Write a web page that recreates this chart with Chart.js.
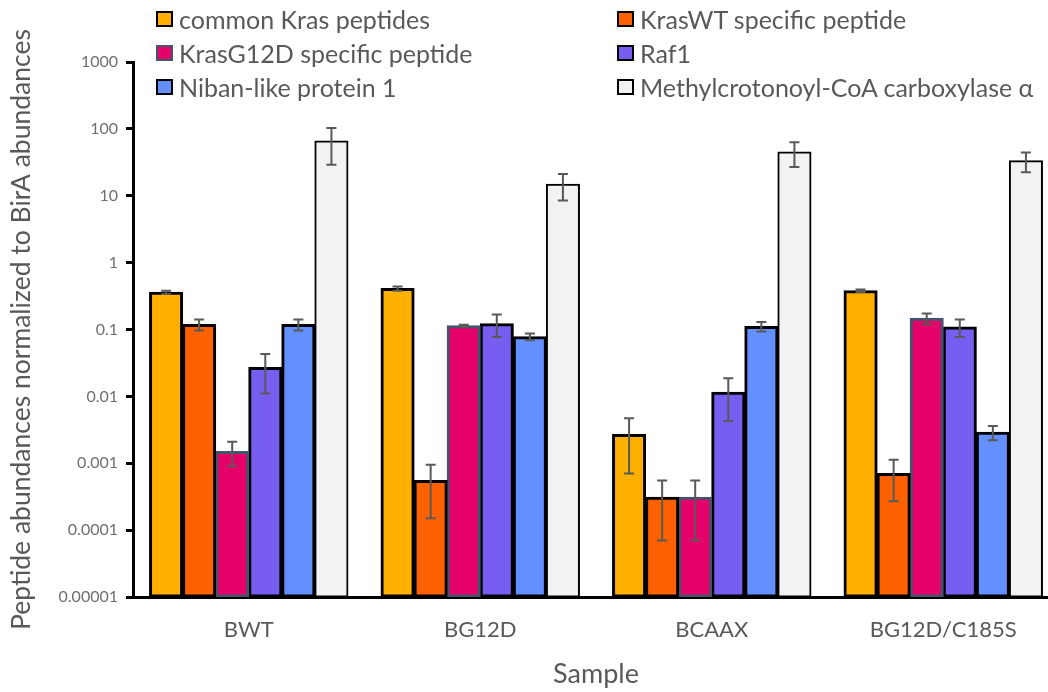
<!DOCTYPE html>
<html>
<head>
<meta charset="utf-8">
<script src="https://cdn.jsdelivr.net/npm/chart.js@4"></script>
<style>
html, body { margin: 0; padding: 0; background: #fff; overflow: hidden; }
#wrap { position: relative; width: 1060px; height: 692px; }
#legend { position: absolute; left: 0; top: 0; font-family: Lato, sans-serif; font-size: 25px; color: #595959; }
.item { position: absolute; display: flex; align-items: center; white-space: nowrap; height: 30px; }
.box { width: 13px; height: 12px; border: 2px solid #000; margin-right: 6px; }
</style>
</head>
<body>
<div id="wrap">
  <canvas id="chart" width="1060" height="692"></canvas>
  <div id="legend"></div>
</div>
<script>
var samples = ["BWT", "BG12D", "BCAAX", "BG12D/C185S"];
var seriesNames = ["common Kras peptides", "KrasWT specific peptide", "KrasG12D specific peptide",
                   "Raf1", "Niban-like protein 1", "Methylcrotonoyl-CoA carboxylase \u03b1"];

var commonKras    = [0.36, 0.41, 0.0027, 0.38];
var commonKrasErr = [0.02, 0.03, 0.002, 0.015];
var krasWT        = [0.119, 0.00055, 0.00031, 0.0007];
var krasWTErr     = [0.022, 0.0004, 0.00024, 0.00043];
var krasG12D      = [0.0015, 0.114, 0.00031, 0.147];
var krasG12DErr   = [0.0006, 0.004, 0.00024, 0.027];
var raf1          = [0.027, 0.122, 0.0115, 0.109];
var raf1Err       = [0.016, 0.045, 0.0072, 0.032];
var niban         = [0.119, 0.078, 0.111, 0.0029];
var nibanErr      = [0.022, 0.009, 0.018, 0.0007];
var mccA          = [66, 14.8, 45, 33.4];
var mccAErr       = [37, 6.3, 18, 11];

var tickValues = [0.00001, 0.0001, 0.001, 0.01, 0.1, 1, 10, 100, 1000];
var tickLabels = ["0.00001", "0.0001", "0.001", "0.01", "0.1", "1", "10", "100", "1000"];

var seriesData = [commonKras, krasWT, krasG12D, raf1, niban, mccA];
var seriesErr = [commonKrasErr, krasWTErr, krasG12DErr, raf1Err, nibanErr, mccAErr];
var fills = ["#FFB000", "#FE6100", "#E6006A", "#785EF0", "#648FFF", "#F2F2F2"];
var borders = ["#000", "#000", "#44546A", "#000", "#000", "#000"];
var borderWidths = [3, 3, 3, 3, 3, 2];

var datasets = seriesNames.map(function (name, i) {
  return {
    label: name,
    data: seriesData[i],
    errors: seriesErr[i],
    backgroundColor: fills[i],
    borderColor: borders[i],
    borderWidth: borderWidths[i],
    borderSkipped: false,
    inflateAmount: 0.5,
    categoryPercentage: 6 / 7,
    barPercentage: 1
  };
});

// error bars, drawn through the y scale
var errorBars = {
  id: 'errorBars',
  afterDatasetsDraw: function (chart) {
    var ctx = chart.ctx, y = chart.scales.y;
    ctx.save();
    ctx.strokeStyle = '#595959';
    ctx.lineWidth = 2;
    chart.data.datasets.forEach(function (ds, i) {
      chart.getDatasetMeta(i).data.forEach(function (bar, j) {
        var v = ds.data[j], e = ds.errors[j];
        var top = y.getPixelForValue(v + e);
        var low = (v - e) > y.min ? y.getPixelForValue(v - e) : y.bottom;
        var x = bar.x, c = 5;
        ctx.beginPath();
        ctx.moveTo(x, top); ctx.lineTo(x, low);
        ctx.moveTo(x - c, top); ctx.lineTo(x + c, top);
        ctx.moveTo(x - c, low); ctx.lineTo(x + c, low);
        ctx.stroke();
      });
    });
    ctx.restore();
  }
};

var chart = new Chart(document.getElementById('chart'), {
  type: 'bar',
  data: { labels: samples, datasets: datasets },
  plugins: [errorBars],
  options: {
    responsive: false,
    animation: false,
    layout: { padding: { top: 62, right: 1, left: 0, bottom: 0 } },
    plugins: { legend: { display: false }, tooltip: { enabled: false } },
    scales: {
      x: {
        offset: true,
        grid: { display: false, drawTicks: false },
        border: { display: true, color: '#000', width: 3 },
        ticks: { color: '#595959', font: { family: 'Lato', size: 22 }, padding: 20 },
        afterFit: function (s) { s.height = 95; },
        title: { display: true, text: 'Sample', color: '#595959',
                 font: { family: 'Lato', size: 27 }, padding: { top: 0, bottom: 2 } }
      },
      y: {
        type: 'logarithmic',
        min: 0.00001,
        max: 1000,
        afterBuildTicks: function (s) { s.ticks = tickValues.map(function (v) { return { value: v }; }); },
        afterFit: function (s) { s.width = 133; },
        ticks: {
          color: '#6f6f6f',
          font: { family: 'Lato', size: 16 },
          padding: 8,
          callback: function (v) { return tickLabels[tickValues.indexOf(v)]; }
        },
        grid: { drawOnChartArea: false, drawTicks: true, tickLength: 7, tickWidth: 3, tickColor: '#000' },
        border: { color: '#000', width: 3 },
        title: { display: true, text: 'Peptide abundances normalized to BirA abundances', color: '#595959',
                 font: { family: 'Lato', size: 26.5 }, padding: { top: 6, bottom: 0 } }
      }
    }
  }
});

// two-column legend, row-major like the original
var legend = document.getElementById('legend');
var colX = [156, 617], rowY = [19, 53, 87];
datasets.forEach(function (ds, i) {
  var item = document.createElement('div');
  item.className = 'item';
  item.style.left = colX[i % 2] + 'px';
  item.style.top = (rowY[Math.floor(i / 2)] - 15) + 'px';
  var box = document.createElement('span');
  box.className = 'box';
  box.style.background = ds.backgroundColor;
  box.style.borderColor = i === 2 ? '#44546A' : '#000';
  var txt = document.createElement('span');
  txt.textContent = ds.label;
  item.appendChild(box);
  item.appendChild(txt);
  legend.appendChild(item);
});
</script>
</body>
</html>
